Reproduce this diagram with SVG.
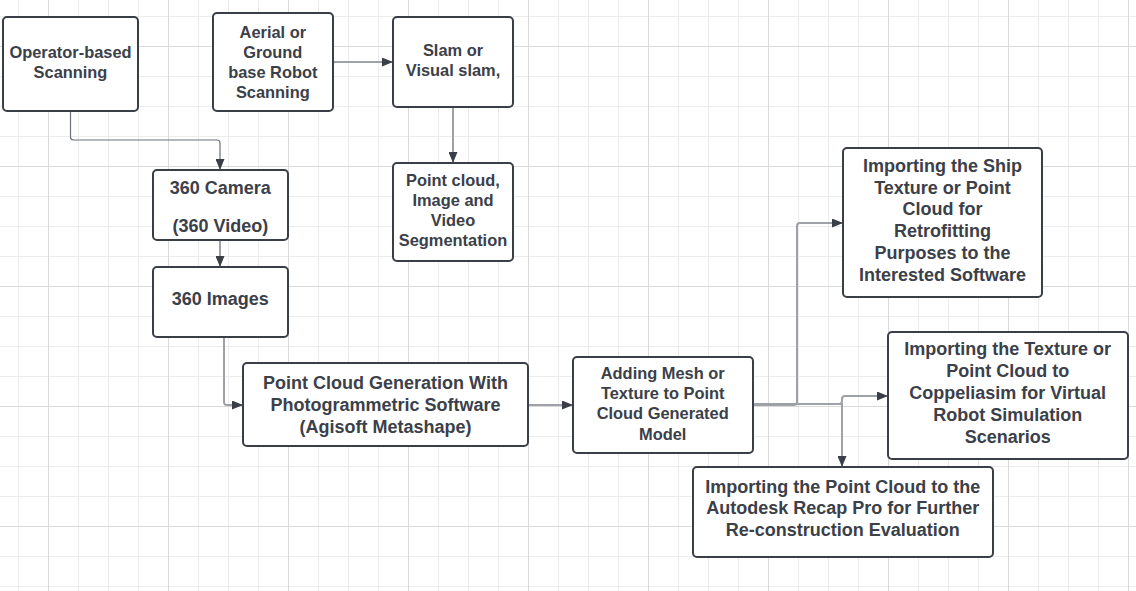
<svg xmlns="http://www.w3.org/2000/svg" width="1136" height="591" viewBox="0 0 1136 591">
<style>
.box{fill:#ffffff;stroke:#3a3f47;stroke-width:2}
.t{font-family:"Liberation Sans",Arial,sans-serif;font-weight:bold;fill:#3b4049;text-anchor:middle;dominant-baseline:central}
.s16{font-size:16.4px}
.s18{font-size:18px}
.c{fill:none;stroke:#9ea2a8;stroke-width:2;marker-end:url(#ah)}
.thin{stroke:#6b7078;stroke-width:1.2}
</style>
<defs>
<pattern id="gmin" x="18" y="16" width="30" height="30" patternUnits="userSpaceOnUse">
<path d="M0.5,0V30M0,0.5H30" stroke="#ececec" stroke-width="1" fill="none"/>
</pattern>
<pattern id="gmaj" x="48" y="46" width="120" height="120" patternUnits="userSpaceOnUse">
<path d="M0.5,0V120M0,0.5H120" stroke="#dadada" stroke-width="1" fill="none"/>
</pattern>
<marker id="ah" viewBox="0 0 11 9" refX="11" refY="4.5" markerWidth="11" markerHeight="9" markerUnits="userSpaceOnUse" orient="auto">
<path d="M0,0L11,4.5L0,9z" fill="#3a3f47"/>
</marker>
</defs>
<rect width="1136" height="591" fill="#ffffff"/>
<rect width="1136" height="591" fill="url(#gmin)"/>
<rect width="1136" height="591" fill="url(#gmaj)"/>

<g id="connectors">
<path class="c thin" d="M70.5,111V137Q70.5,140 73.5,140H217Q220,140 220,143V170"/>
<path class="c" d="M333,62H393"/>
<path class="c" d="M453,107V163"/>
<path class="c" d="M220,240V267"/>
<path class="c" d="M224,337V402Q224,405 227,405H243"/>
<path class="c" d="M528,405H573"/>
<path class="c" d="M753,405H794Q797,405 797,402V226Q797,223 800,223H843"/>
<path class="c" d="M753,404H839Q842,404 842,401V399Q842,396 845,396H888"/>
<path class="c" d="M753,404H842V467"/>
</g>

<g id="operator">
<rect class="box" x="3" y="17" width="135" height="94" rx="4"/>
<text class="t s16" x="70.5" y="52.3">Operator-based</text>
<text class="t s16" x="70.5" y="72.3">Scanning</text>
</g>
<g id="aerial">
<rect class="box" x="213" y="13" width="120" height="98" rx="4"/>
<text class="t s16" x="272.8" y="32.3">Aerial or</text>
<text class="t s16" x="272.8" y="52.3">Ground</text>
<text class="t s16" x="272.8" y="72.3">base Robot</text>
<text class="t s16" x="272.8" y="92.3">Scanning</text>
</g>
<g id="slam">
<rect class="box" x="393" y="17" width="120" height="90" rx="4"/>
<text class="t s16" x="453" y="50">Slam or</text>
<text class="t s16" x="453" y="70">Visual slam,</text>
</g>
<g id="pointcloud">
<rect class="box" x="393" y="163" width="120" height="98" rx="4"/>
<text class="t s16" x="453" y="180.3">Point cloud,</text>
<text class="t s16" x="453" y="200">Image and</text>
<text class="t s16" x="453" y="220">Video</text>
<text class="t s16" x="453" y="240">Segmentation</text>
</g>
<g id="camera">
<rect class="box" x="153" y="170" width="135" height="70" rx="4"/>
<text class="t s18" x="220.3" y="188.3">360 Camera</text>
<text class="t s18" x="220.3" y="226">(360 Video)</text>
</g>
<g id="images">
<rect class="box" x="153" y="267" width="135" height="70" rx="4"/>
<text class="t s18" x="220.3" y="299.3">360 Images</text>
</g>
<g id="pcg">
<rect class="box" x="243" y="363" width="285" height="83" rx="4"/>
<text class="t s18" x="385.5" y="383.3">Point Cloud Generation With</text>
<text class="t s18" x="385.5" y="405">Photogrammetric Software</text>
<text class="t s18" x="385.5" y="427.3">(Agisoft Metashape)</text>
</g>
<g id="mesh">
<rect class="box" x="573" y="357" width="180" height="96" rx="4"/>
<text class="t s16" x="662.7" y="373.3">Adding Mesh or</text>
<text class="t s16" x="662.7" y="393.3">Texture to Point</text>
<text class="t s16" x="662.7" y="413.3">Cloud Generated</text>
<text class="t s16" x="662.7" y="434">Model</text>
</g>
<g id="ship">
<rect class="box" x="843" y="148" width="199" height="149" rx="4"/>
<text class="t s18" x="942.5" y="166">Importing the Ship</text>
<text class="t s18" x="942.5" y="187.7">Texture or Point</text>
<text class="t s18" x="942.5" y="209.3">Cloud for</text>
<text class="t s18" x="942.5" y="231.3">Retrofitting</text>
<text class="t s18" x="942.5" y="253.3">Purposes to the</text>
<text class="t s18" x="942.5" y="275.3">Interested Software</text>
</g>
<g id="coppelia">
<rect class="box" x="888" y="332" width="240" height="127" rx="4"/>
<text class="t s18" x="1007.7" y="349.3">Importing the Texture or</text>
<text class="t s18" x="1007.7" y="371">Point Cloud to</text>
<text class="t s18" x="1007.7" y="393">Coppeliasim for Virtual</text>
<text class="t s18" x="1007.7" y="415">Robot Simulation</text>
<text class="t s18" x="1007.7" y="436.7">Scenarios</text>
</g>
<g id="autodesk">
<rect class="box" x="693" y="467" width="300" height="90" rx="4"/>
<text class="t s18" x="842.7" y="486.7">Importing the Point Cloud to the</text>
<text class="t s18" x="842.7" y="508.3">Autodesk Recap Pro for Further</text>
<text class="t s18" x="842.7" y="530">Re-construction Evaluation</text>
</g>
</svg>
